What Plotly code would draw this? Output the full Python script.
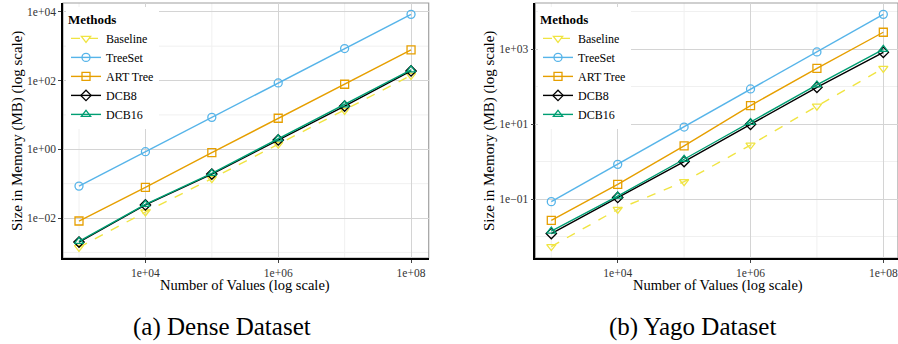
import plotly.graph_objects as go

W, H = 898, 344

x_vals = [1e3, 1e4, 1e5, 1e6, 1e7, 1e8]
methods = ["Baseline", "TreeSet", "ART Tree", "DCB8", "DCB16"]

dense_baseline = [0.0014, 0.015, 0.14, 1.4, 13.5, 141]
dense_treeset = [0.085, 0.85, 8.5, 85, 850, 8400]
dense_art = [0.0082, 0.078, 0.8, 8.0, 78, 775]
dense_dcb8 = [0.002, 0.024, 0.19, 1.87, 18, 190]
dense_dcb16 = [0.0021, 0.025, 0.2, 2.0, 19.5, 205]

yago_baseline = [0.0054, 0.053, 0.29, 2.75, 30, 305]
yago_treeset = [0.085, 0.84, 8.3, 86, 835, 8400]
yago_art = [0.027, 0.245, 2.6, 31, 305, 2800]
yago_dcb8 = [0.012, 0.11, 1.0, 9.8, 95, 815]
yago_dcb16 = [0.014, 0.12, 1.15, 11, 110, 980]

x_ticks = [1e4, 1e6, 1e8]
x_ticktext = ["1e+04", "1e+06", "1e+08"]
x_minor = [1e3, 1e5, 1e7]
dense_y_ticks = [1e-2, 1e0, 1e2, 1e4]
dense_y_ticktext = ["1e\u221202", "1e+00", "1e+02", "1e+04"]
dense_y_minor = [1e-3, 1e-1, 1e1, 1e3]
yago_y_ticks = [1e-1, 1e1, 1e3]
yago_y_ticktext = ["1e\u221201", "1e+01", "1e+03"]
yago_y_minor = [1e-2, 1e0, 1e2, 1e4]

captions = ["(a) Dense Dataset", "(b) Yago Dataset"]

colors = ["#F0E442", "#56B4E9", "#E69F00", "#000000", "#009E73"]
symbols = ["triangle-down-open", "circle-open", "square-open", "diamond-open", "triangle-up-open"]
dashes = ["dash", "solid", "solid", "solid", "solid"]

FONT = "Liberation Serif"
MINOR_COLOR = "#F0F0F0"

fig = go.Figure()

datasets = [
    [dense_baseline, dense_treeset, dense_art, dense_dcb8, dense_dcb16],
    [yago_baseline, yago_treeset, yago_art, yago_dcb8, yago_dcb16],
]

def px_x(v):
    return v / W

def px_y(v):
    return 1 - v / H

# minor grid lines (drawn below everything)
minor_sets = [(x_minor, dense_y_minor, "x", "y"), (x_minor, yago_y_minor, "x2", "y2")]
for xm, ym, xa, ya in minor_sets:
    for v in xm:
        fig.add_shape(type="line", xref=xa, yref=ya + " domain", x0=v, x1=v, y0=0, y1=1,
                      line=dict(color=MINOR_COLOR, width=1), layer="below")
    for v in ym:
        fig.add_shape(type="line", xref=xa + " domain", yref=ya, x0=0, x1=1, y0=v, y1=v,
                      line=dict(color=MINOR_COLOR, width=1), layer="below")

for p, series in enumerate(datasets):
    xa = "x" if p == 0 else "x2"
    ya = "y" if p == 0 else "y2"
    lg = "legend" if p == 0 else "legend2"
    for i, name in enumerate(methods):
        fig.add_trace(go.Scatter(
            x=x_vals, y=series[i], name=name, mode="lines+markers",
            xaxis=xa, yaxis=ya, legend=lg,
            line=dict(color=colors[i], width=1.4, dash=dashes[i]),
            marker=dict(symbol=symbols[i], size=8, color=colors[i], line=dict(width=1.3, color=colors[i])),
        ))

ydom = [px_y(258), px_y(3)]
axis_common = dict(
    type="log", showline=True, linecolor="black", linewidth=1.6,
    showgrid=True, gridcolor="#D4D4D4", gridwidth=1.3,
    ticks="outside", ticklen=3, tickcolor="#444444", tickwidth=1,
    tickfont=dict(family=FONT, size=11.5, color="#333333"),
    zeroline=False, tickmode="array", automargin=False, ticklabeloverflow="allow",
)

leg_common = dict(xanchor="left", yanchor="top", bgcolor="white", borderwidth=0,
                  itemwidth=30, tracegroupgap=0,
                  title=dict(text="<b>Methods</b>", font=dict(family=FONT, size=13)),
                  font=dict(family=FONT, size=12))

fig.update_layout(
    template="none",
    width=W, height=H, margin=dict(l=0, r=0, t=0, b=0, autoexpand=False),
    paper_bgcolor="white", plot_bgcolor="white",
    font=dict(family=FONT, color="black"),
    xaxis=dict(axis_common, domain=[px_x(63), px_x(428.7)], range=[2.759, 8.266],
               tickvals=x_ticks, ticktext=x_ticktext, anchor="y"),
    yaxis=dict(axis_common, domain=ydom, range=[-3.162, 4.255],
               tickvals=dense_y_ticks, ticktext=dense_y_ticktext, anchor="x"),
    xaxis2=dict(axis_common, domain=[px_x(535.3), 1.0], range=[2.759, 8.221],
                tickvals=x_ticks, ticktext=x_ticktext, anchor="y2"),
    yaxis2=dict(axis_common, domain=ydom, range=[-2.573, 4.227],
                tickvals=yago_y_ticks, ticktext=yago_y_ticktext, anchor="x2"),
    legend=dict(leg_common, x=px_x(66), y=px_y(7)),
    legend2=dict(leg_common, x=px_x(538), y=px_y(7)),
    showlegend=True,
)

# grey panel border (top/right)
for xr, yr in [("x domain", "y domain"), ("x2 domain", "y2 domain")]:
    fig.add_shape(type="rect", xref=xr, yref=yr, x0=0, x1=1, y0=0, y1=1,
                  line=dict(color="#A0A0A0", width=1.2), layer="below")

ann = dict(showarrow=False, xanchor="center", yanchor="middle")
# axis titles
fig.add_annotation(ann, text="Number of Values (log scale)", xref="paper", yref="paper",
                   x=px_x(245.5), y=px_y(285), font=dict(family=FONT, size=14.5))
fig.add_annotation(ann, text="Number of Values (log scale)", xref="paper", yref="paper",
                   x=px_x(718), y=px_y(285), font=dict(family=FONT, size=14.5))
fig.add_annotation(ann, text="Size in Memory (MB) (log scale)", xref="paper", yref="paper",
                   x=px_x(17), y=px_y(131), textangle=-90, font=dict(family=FONT, size=15))
fig.add_annotation(ann, text="Size in Memory (MB) (log scale)", xref="paper", yref="paper",
                   x=px_x(489), y=px_y(131), textangle=-90, font=dict(family=FONT, size=15))

# captions
fig.add_annotation(ann, text=captions[0], xref="paper", yref="paper", x=px_x(221.5), y=px_y(327),
                   font=dict(family=FONT, size=25))
fig.add_annotation(ann, text=captions[1], xref="paper", yref="paper", x=px_x(692), y=px_y(327),
                   font=dict(family=FONT, size=25))

fig.write_html("out.html", config={"displayModeBar": False},
               post_script="document.body.style.margin='0px';document.body.style.overflow='hidden';")
